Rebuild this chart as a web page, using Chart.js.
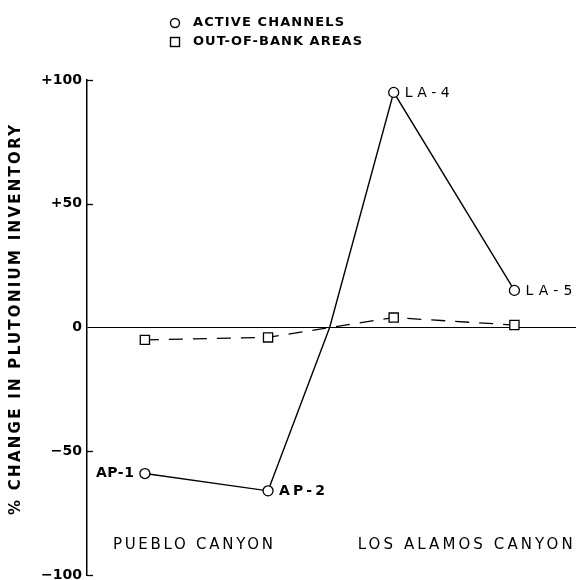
<!DOCTYPE html>
<html>
<head>
<meta charset="utf-8">
<script src="https://cdn.jsdelivr.net/npm/chart.js@4/dist/chart.umd.min.js"></script>
<style>
  html, body { margin: 0; padding: 0; background: #fff; }
  canvas { display: block; }
</style>
</head>
<body>
<canvas id="c" width="576" height="580"></canvas>
<script>
// ---- data ----
const siteNames = ['AP-1', 'AP-2', '', 'LA-4', 'LA-5'];
const sitePositions = [1, 2, 2.5, 3.02, 4];          // position along the profile (crossing point at 2.5)
const activeChannels = [-59, -66, 0, 95, 15];        // % change, active channels
const outOfBankAreas = [-5, -4, 0, 4, 1];            // % change, out-of-bank areas
const yTickValues = [-100, -50, 0, 50, 100];
const canyonNames = ['PUEBLO CANYON', 'LOS ALAMOS CANYON'];
const seriesNames = ['ACTIVE CHANNELS', 'OUT-OF-BANK AREAS'];
const yTitle = '% CHANGE IN PLUTONIUM INVENTORY';

const FONT = '"DejaVu Sans", "Liberation Sans", sans-serif';

function toPoints(vals) {
  return vals.map((v, i) => ({ x: sitePositions[i], y: v }));
}
function radii(r) {
  return siteNames.map(n => n ? r : 0);
}

// draw text stretched (via letter spacing) to a target width
function fitText(ctx, text, x, y, width, align) {
  ctx.letterSpacing = '0px';
  const w = ctx.measureText(text).width;
  const sp = Math.max(0, (width - w) / Math.max(1, text.length - 1));
  ctx.letterSpacing = sp + 'px';
  let sx = x;
  if (align === 'center') sx = x - width / 2;
  else if (align === 'right') sx = x - width;
  ctx.textAlign = 'left';
  ctx.fillText(text, sx, y);
  ctx.letterSpacing = '0px';
}

const decorPlugin = {
  id: 'decor',
  beforeDraw(chart) {
    const ctx = chart.ctx;
    ctx.save();
    ctx.fillStyle = '#fff';
    ctx.fillRect(0, 0, chart.width, chart.height);
    ctx.restore();
  },
  afterDraw(chart) {
    const ctx = chart.ctx;
    const xs = chart.scales.x, ys = chart.scales.y;
    const area = chart.chartArea;
    ctx.save();
    ctx.fillStyle = '#000';
    ctx.strokeStyle = '#000';

    // inward tick marks
    ctx.lineWidth = 1.3;
    yTickValues.forEach(v => {
      if (v === 0) return;
      const py = Math.round(ys.getPixelForValue(v)) + 0.5;
      ctx.beginPath();
      ctx.moveTo(area.left, py);
      ctx.lineTo(area.left + 6, py);
      ctx.stroke();
    });

    // y axis title
    ctx.save();
    ctx.translate(16, 320);
    ctx.rotate(-Math.PI / 2);
    ctx.font = 'bold 15px ' + FONT;
    ctx.textBaseline = 'middle';
    fitText(ctx, yTitle, 0, 0, 390, 'center');
    ctx.restore();

    // legend
    ctx.font = 'bold 13px ' + FONT;
    ctx.textBaseline = 'middle';
    ctx.lineWidth = 1.4;
    ctx.beginPath();
    ctx.arc(175, 23, 4.5, 0, Math.PI * 2);
    ctx.stroke();
    ctx.strokeRect(170.5, 37.5, 9, 9);
    fitText(ctx, seriesNames[0], 193, 23, 151, 'left');
    fitText(ctx, seriesNames[1], 193, 42, 169, 'left');

    // point labels (active channels)
    const meta = chart.getDatasetMeta(0);
    ctx.textBaseline = 'middle';
    const labelW = { 'AP-1': 38, 'AP-2': 46, 'LA-4': 45, 'LA-5': 47 };
    siteNames.forEach((n, i) => {
      if (!n) return;
      const p = meta.data[i];
      ctx.font = (i < 2 ? 'bold ' : '') + '14px ' + FONT;
      if (i === 0) fitText(ctx, n, p.x - 11, p.y, labelW[n], 'right');
      else fitText(ctx, n, p.x + 11, p.y + 1, labelW[n], 'left');
    });

    // canyon names
    ctx.font = '15px ' + FONT;
    ctx.textBaseline = 'middle';
    const cy = ys.getPixelForValue(-88);
    fitText(ctx, canyonNames[0], xs.getPixelForValue(1.39), cy, 160, 'center');
    fitText(ctx, canyonNames[1], xs.getPixelForValue(3.6), cy, 215, 'center');
    ctx.restore();
  }
};

new Chart(document.getElementById('c'), {
  type: 'line',
  data: {
    datasets: [
      {
        label: seriesNames[0],
        data: toPoints(activeChannels),
        borderColor: '#000',
        borderWidth: 1.4,
        pointStyle: 'circle',
        pointRadius: radii(5),
        pointBackgroundColor: '#fff',
        pointBorderColor: '#000',
        pointBorderWidth: 1.3,
        tension: 0,
        clip: false
      },
      {
        label: seriesNames[1],
        data: toPoints(outOfBankAreas),
        borderColor: '#000',
        borderWidth: 1.3,
        borderDash: [14, 10],
        pointStyle: 'rect',
        pointRadius: radii(6.5),
        pointBackgroundColor: '#fff',
        pointBorderColor: '#000',
        pointBorderWidth: 1.3,
        tension: 0,
        clip: false
      }
    ]
  },
  options: {
    responsive: false,
    animation: false,
    events: [],
    layout: { autoPadding: false, padding: { top: 80, bottom: 0, left: 0, right: 0 } },
    plugins: { legend: { display: false }, tooltip: { enabled: false } },
    scales: {
      x: { type: 'linear', min: 0.53, max: 4.5, display: false },
      y: {
        min: -100, max: 100,
        afterFit(s) { s.width = 87; s.paddingBottom = 5; s.paddingTop = 0; },
        afterBuildTicks(s) { s.ticks = yTickValues.map(v => ({ value: v })); },
        border: { display: true, color: '#000', width: 1.5 },
        grid: {
          drawTicks: false,
          color: c => (c.tick && c.tick.value === 0) ? '#000' : 'rgba(0,0,0,0)',
          lineWidth: 1
        },
        ticks: {
          padding: 5,
          color: '#000',
          font: { family: FONT, size: 14, weight: 'bold' },
          callback: v => v > 0 ? '+' + v : (v < 0 ? '\u2212' + Math.abs(v) : '0')
        }
      }
    }
  },
  plugins: [decorPlugin]
});
</script>
</body>
</html>
